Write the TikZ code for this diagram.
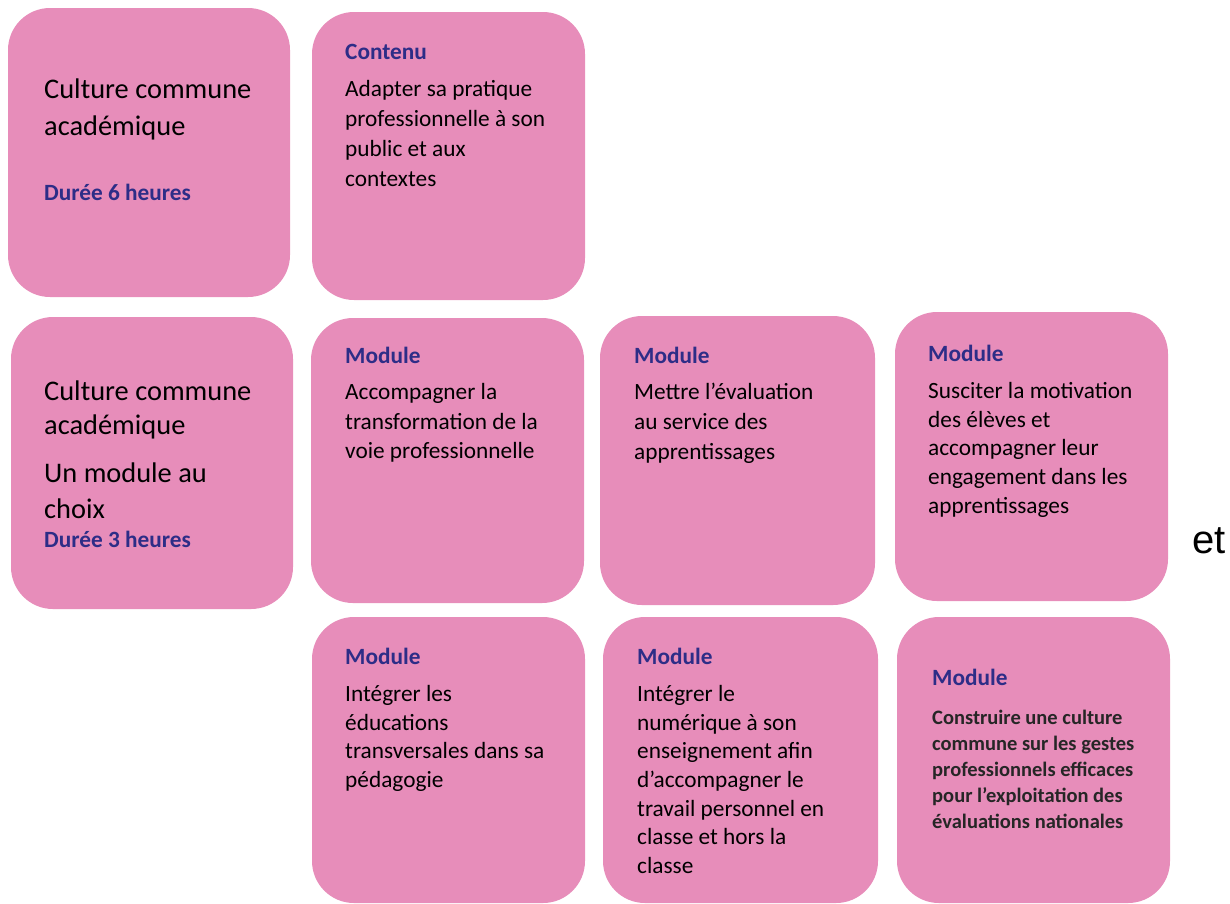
\documentclass[tikz,border=0pt]{standalone}
\usepackage{fontspec}
\setmainfont{Carlito}
\newfontfamily\etfont{Liberation Sans}
\definecolor{tilepink}{RGB}{231,141,186}
\definecolor{headblue}{RGB}{45,45,135}

\begin{document}
\begin{tikzpicture}[x=1pt,y=-1pt]
        \useasboundingbox (0,0) rectangle (1230,903);
        % pink tiles
        \begin{scope}[every node/.style={fill=tilepink, rectangle, rounded corners=42pt, inner sep=0pt}]
            \node (CultA) at (149,152.5) [minimum width=282pt, minimum height=289pt] {};
            \node (Contenu) at (448.5,156) [minimum width=273pt, minimum height=288pt] {};
            \node (CultB) at (152,463) [minimum width=282pt, minimum height=292pt] {};
            \node (ModVoie) at (447.5,460.5) [minimum width=273pt, minimum height=285pt] {};
            \node (ModEval) at (737.5,460.5) [minimum width=275pt, minimum height=289pt] {};
            \node (ModMotiv) at (1031.5,456.5) [minimum width=273pt, minimum height=289pt] {};
            \node (ModEduc) at (448.5,760) [minimum width=273pt, minimum height=286pt] {};
            \node (ModNum) at (740.5,760) [minimum width=275pt, minimum height=286pt] {};
            \node (ModGestes) at (1033.5,760) [minimum width=273pt, minimum height=286pt] {};
        \end{scope}
        % texts
        \begin{scope}[every node/.style={inner sep=0pt, align=left},
                      title/.style={anchor=north west, yshift={0.7*#1*1pt-5pt}, execute at begin node=\strut, font=\fontsize{28.4}{#1}\selectfont},
                      title/.default=36,
                      body/.style={anchor=north west, yshift={0.7*#1*1pt-5pt}, execute at begin node=\strut, font=\fontsize{23.3}{#1}\selectfont},
                      body/.default=29,
                      small/.style={anchor=north west, yshift={0.7*26pt-5pt}, execute at begin node=\strut, font=\bfseries\fontsize{20.5}{26}\selectfont, text=black!85},
                      label/.style={anchor=base west, text=headblue, font=\bfseries\fontsize{23.3}{28}\selectfont}]
            \node[title=37] (CultATitle) at (44,99) {Culture commune\\académique};
            \node[label] (CultADuree) at (44,200) {Durée 6 heures};
            \node[label] (ContenuHead) at (345,59) {Contenu};
            \node[body=30] (ContenuText) at (345,96) {Adapter sa pratique\\professionnelle à son\\public et aux\\contextes};
            \node[title=34] (CultBTitle) at (44,399) {Culture commune\\académique};
            \node[title=36] (CultBChoix) at (44,483) {Un module au\\choix};
            \node[label] (CultBDuree) at (44,547) {Durée 3 heures};
            \node[label] (ModVoieHead) at (345,363) {Module};
            \node[body=29.5] (ModVoieText) at (345,399) {Accompagner la\\transformation de la\\voie professionnelle};
            \node[label] (ModEvalHead) at (634,363) {Module};
            \node[body=30] (ModEvalText) at (634,399) {Mettre l’évaluation\\au service des\\apprentissages};
            \node[label] (ModMotivHead) at (928,361) {Module};
            \node[body=28.75] (ModMotivText) at (928,397) {Susciter la motivation\\des élèves et\\accompagner leur\\engagement dans les\\apprentissages};
            \node[label] (ModEducHead) at (345,664) {Module};
            \node[body=28.7] (ModEducText) at (345,700) {Intégrer les\\éducations\\transversales dans sa\\pédagogie};
            \node[label] (ModNumHead) at (637,664) {Module};
            \node[body=28.7] (ModNumText) at (637,700) {Intégrer le\\numérique à son\\enseignement afin\\d’accompagner le\\travail personnel en\\classe et hors la\\classe};
            \node[label] (ModGestesHead) at (932,685) {Module};
            \node[small] (ModGestesText) at (932,723) {Construire une culture\\commune sur les gestes\\professionnels efficaces\\pour l’exploitation des\\évaluations nationales};
            \node[anchor=base west, font=\etfont\fontsize{40}{48}\selectfont] (Et) at (1192,553) {et};
        \end{scope}
    \end{tikzpicture}
\end{document}
